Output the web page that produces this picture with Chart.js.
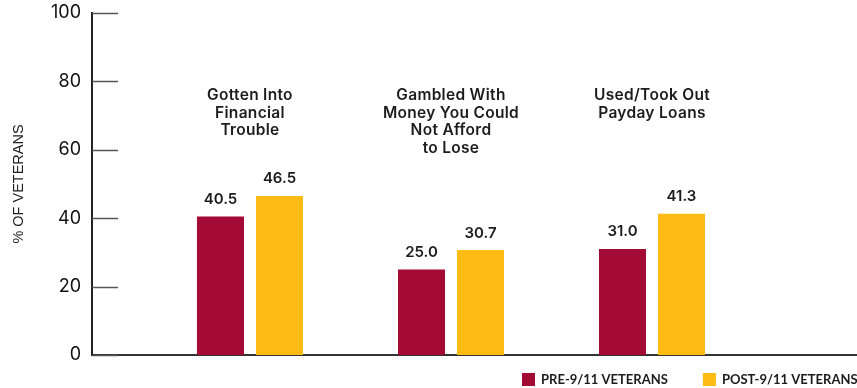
<!DOCTYPE html>
<html>
<head>
<meta charset="utf-8">
<script src="https://cdn.jsdelivr.net/npm/chart.js@4.4.1/dist/chart.umd.min.js"></script>
<style>
  html, body { margin: 0; padding: 0; background: #fff; overflow: hidden; }
  #wrap { width: 857px; height: 388px; position: relative; }
</style>
</head>
<body>
<div id="wrap"><canvas id="chart"></canvas></div>
<script>
// categories, each split into the lines drawn above its pair of bars
const categories = [
  ['Gotten Into', 'Financial', 'Trouble'],
  ['Gambled With', 'Money You Could', 'Not Afford', 'to Lose'],
  ['Used/Took Out', 'Payday Loans'],
];
const seriesNames = ['PRE-9/11 VETERANS', 'POST-9/11 VETERANS'];
const preValues = [40.5, 25.0, 31.0];
const postValues = [46.5, 30.7, 41.3];
const yTicks = [0, 20, 40, 60, 80, 100];

const RED = '#a30b35';
const GOLD = '#fdbb13';
const INK = '#1c1c1c';

// short tick marks inside the y axis
const tickMarks = {
  id: 'tickMarks',
  afterDraw(chart) {
    const { ctx, chartArea, scales: { y } } = chart;
    ctx.save();
    ctx.strokeStyle = '#555';
    ctx.lineWidth = 1.5;
    yTicks.forEach(v => {
      const py = Math.round(y.getPixelForValue(v)) + 0.5;
      ctx.beginPath();
      ctx.moveTo(chartArea.left, py);
      ctx.lineTo(chartArea.left + 26, py);
      ctx.stroke();
    });
    ctx.restore();
  }
};

// category names and bar values
const barLabels = {
  id: 'barLabels',
  afterDatasetsDraw(chart) {
    const { ctx, scales: { x, y } } = chart;
    ctx.save();
    ctx.fillStyle = INK;
    ctx.textAlign = 'center';
    ctx.textBaseline = 'middle';

    ctx.font = '600 15.5px Inter';
    ctx.letterSpacing = '0.3px';
    categories.forEach((lines, i) => {
      const cx = x.getPixelForValue(i + 1);
      const top = y.getPixelForValue(75.8);
      lines.forEach((t, j) => ctx.fillText(t, cx, top + j * 17.4));
    });

    ctx.font = '600 15px Inter';
    ctx.letterSpacing = '0px';
    chart.data.datasets.forEach((ds, di) => {
      chart.getDatasetMeta(di).data.forEach((bar, i) => {
        ctx.fillText(ds.data[i].y.toFixed(1), bar.x, bar.y - 17);
      });
    });
    ctx.restore();
  }
};

// legend along the bottom right
const bottomLegend = {
  id: 'bottomLegend',
  afterDraw(chart) {
    const { ctx } = chart;
    ctx.save();
    ctx.font = '700 13px Lato';
    ctx.textBaseline = 'middle';
    ctx.textAlign = 'left';
    let lx = 522;
    chart.data.datasets.forEach(ds => {
      ctx.fillStyle = ds.backgroundColor;
      ctx.fillRect(lx, 373, 13, 13);
      ctx.fillStyle = INK;
      ctx.fillText(ds.label, lx + 19, 380);
      lx += 19 + ctx.measureText(ds.label).width + 35;
    });
    ctx.restore();
  }
};

new Chart(document.getElementById('chart'), {
  type: 'bar',
  data: {
    datasets: [
      {
        label: seriesNames[0],
        data: preValues.map((v, i) => ({ x: i + 1, y: v })),
        backgroundColor: RED,
      },
      {
        label: seriesNames[1],
        data: postValues.map((v, i) => ({ x: i + 1, y: v })),
        backgroundColor: GOLD,
      },
    ],
  },
  options: {
    responsive: true,
    maintainAspectRatio: false,
    animation: false,
    categoryPercentage: 0.587,
    barPercentage: 0.797,
    layout: { padding: { top: 13, bottom: 33, left: 0, right: 0 } },
    plugins: {
      legend: { display: false },
      tooltip: { enabled: false },
    },
    scales: {
      x: {
        type: 'linear',
        offset: false,
        min: 0.214,
        max: 4.02,
        grid: { display: false, drawTicks: false, offset: false },
        ticks: { display: false },
        border: { display: true, color: '#333', width: 2 },
        afterBuildTicks: s => { s.ticks = [1, 2, 3].map(v => ({ value: v })); },
        afterFit: s => { s.height = 0; },
      },
      y: {
        min: 0,
        max: 100,
        afterBuildTicks: s => { s.ticks = yTicks.map(v => ({ value: v })); },
        grid: { display: false, drawTicks: false },
        border: { display: true, color: '#222', width: 2 },
        ticks: {
          padding: 11,
          color: '#111',
          font: { family: 'Inter', size: 18 },
        },
        title: {
          display: true,
          text: '% OF VETERANS',
          color: INK,
          font: { family: 'Liberation Sans', size: 14.5 },
          padding: { top: 10, bottom: 0 },
        },
        afterFit: s => {
          s.width = 92;
          s.paddingTop = 0;
          s.paddingBottom = 0;
        },
      },
    },
  },
  plugins: [tickMarks, barLabels, bottomLegend],
});
</script>
</body>
</html>
